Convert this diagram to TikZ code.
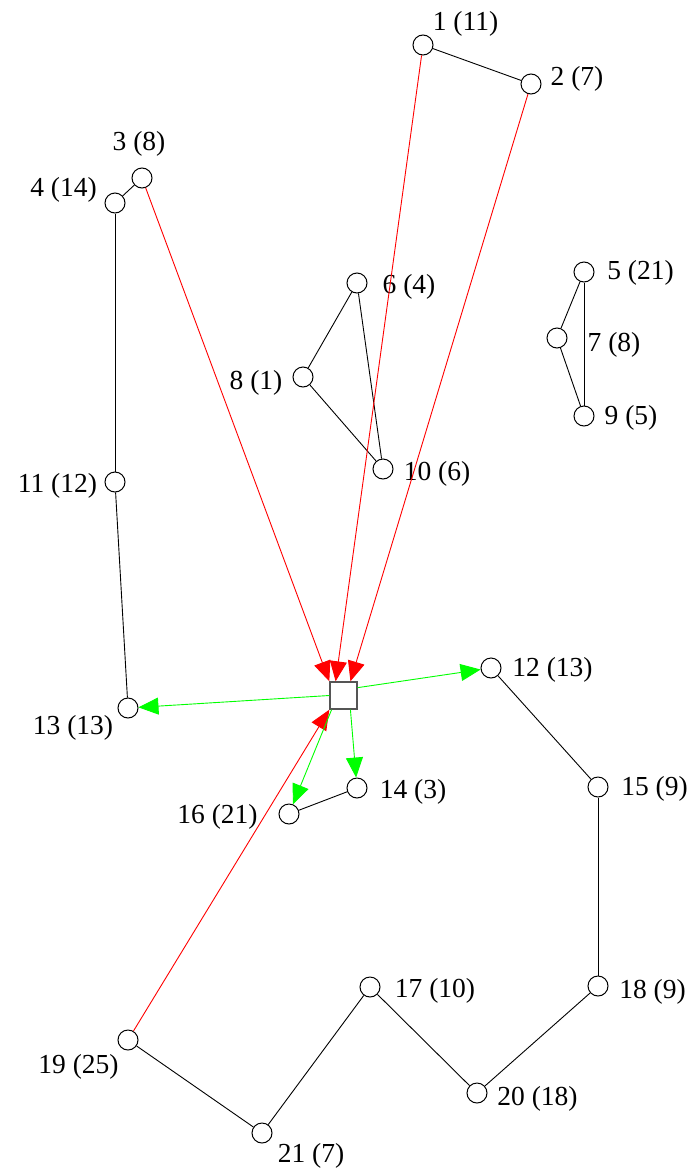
\documentclass[tikz,border=0pt]{standalone}
\usepackage{fontspec}
\setmainfont{Liberation Serif}
\usepackage{tikz}
\usetikzlibrary{arrows.meta}

\tikzset{
  vtx/.style={circle,draw,line width=1pt,minimum size=20pt,inner sep=0pt},
  hub/.style={rectangle,draw={rgb,255:red,85;green,85;blue,85},line width=1.4pt,minimum size=27pt,inner sep=0pt},
  lbl/.style={inner sep=0pt,font=\fontsize{27.5}{30}\selectfont},
  inedge/.style={red,line width=0.9pt,-{Triangle[length=20pt,width=17pt]}},
  outedge/.style={green,line width=0.9pt,-{Triangle[length=20pt,width=17pt]}},
}

\begin{document}
\begin{tikzpicture}[x=1pt,y=-1pt,line width=0.9pt]
    \useasboundingbox (0,0) rectangle (690,1170);
    % vertices
    \node[vtx] (v1) at (423,45) {};
    \node[vtx] (v2) at (531,84) {};
    \node[vtx] (v3) at (142,178) {};
    \node[vtx] (v4) at (115,203) {};
    \node[vtx] (v5) at (584,272) {};
    \node[vtx] (v6) at (357,283) {};
    \node[vtx] (v7) at (557,338) {};
    \node[vtx] (v8) at (303,377) {};
    \node[vtx] (v9) at (584,416) {};
    \node[vtx] (v10) at (383,469) {};
    \node[vtx] (v11) at (115,482) {};
    \node[vtx] (v12) at (491,668) {};
    \node[vtx] (v13) at (128,708) {};
    \node[vtx] (v14) at (357,788) {};
    \node[vtx] (v15) at (598,787) {};
    \node[vtx] (v16) at (289,814) {};
    \node[vtx] (v17) at (370,987) {};
    \node[vtx] (v18) at (598,986) {};
    \node[vtx] (v19) at (128,1040) {};
    \node[vtx] (v20) at (477,1093) {};
    \node[vtx] (v21) at (262,1133) {};
    \node[hub] (sq) at (343.5,695.5) {};
    % labels
    \node[lbl] (t1) at (465.5,24) {1 (11)};
    \node[lbl] (t2) at (577,79) {2 (7)};
    \node[lbl] (t3) at (139,144) {3 (8)};
    \node[lbl] (t4) at (63.5,190) {4 (14)};
    \node[lbl] (t5) at (640.5,273) {5 (21)};
    \node[lbl] (t6) at (409,287) {6 (4)};
    \node[lbl] (t7) at (614,345) {7 (8)};
    \node[lbl] (t8) at (256,383) {8 (1)};
    \node[lbl] (t9) at (631,418) {9 (5)};
    \node[lbl] (t10) at (437,474) {10 (6)};
    \node[lbl] (t11) at (57.5,486) {11 (12)};
    \node[lbl] (t12) at (552.5,670) {12 (13)};
    \node[lbl] (t13) at (73,728) {13 (13)};
    \node[lbl] (t14) at (413,792) {14 (3)};
    \node[lbl] (t15) at (654.5,789) {15 (9)};
    \node[lbl] (t16) at (217.5,817) {16 (21)};
    \node[lbl] (t17) at (435,991) {17 (10)};
    \node[lbl] (t18) at (652.5,992) {18 (9)};
    \node[lbl] (t19) at (78.5,1067) {19 (25)};
    \node[lbl] (t20) at (537.5,1099) {20 (18)};
    \node[lbl] (t21) at (311,1156) {21 (7)};
    % plain edges
    \draw (v1) -- (v2);
    \draw (v3) -- (v4);
    \draw (v4) -- (v11);
    \draw (v11) -- (v13);
    \draw (v6) -- (v8);
    \draw (v8) -- (v10);
    \draw (v6) -- (v10);
    \draw (v5) -- (v7);
    \draw (v7) -- (v9);
    \draw (v5) -- (v9);
    \draw (v14) -- (v16);
    \draw (v12) -- (v15);
    \draw (v15) -- (v18);
    \draw (v18) -- (v20);
    \draw (v20) -- (v17);
    \draw (v17) -- (v21);
    \draw (v21) -- (v19);
    % into the square
    \draw[inedge] (v3) -- (sq.north west);
    \draw[inedge] (v1) -- (sq.119);
    \draw[inedge] (v2) -- (sq.64);
    \draw[inedge] (v19) -- (sq.south west);
    % out of the square
    \draw[outedge] (sq.west) -- (v13);
    \draw[outedge] (sq.29) -- (v12);
    \draw[outedge] (sq.-64) -- (v14);
    \draw[outedge] (sq.-130) -- (v16);
\end{tikzpicture}
\end{document}
